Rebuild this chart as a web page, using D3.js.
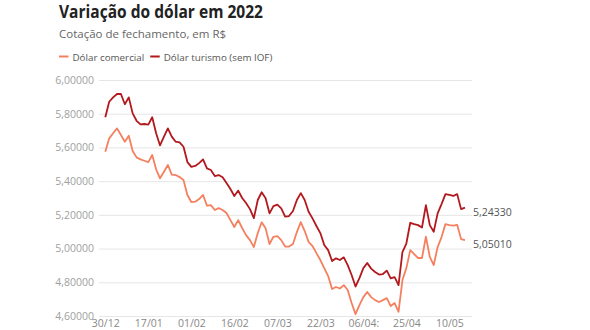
<!DOCTYPE html>
<html>
<head>
<meta charset="utf-8">
<script src="https://cdn.jsdelivr.net/npm/d3@7"></script>
<style>
  html, body { margin: 0; padding: 0; background: #fff; }
  svg { display: block; }
  text { font-family: "Open Sans", "Noto Sans", sans-serif; }
</style>
</head>
<body>
<svg id="chart" width="590" height="330"></svg>
<script>
// ---- data ----
const dates = [
  "30/12",
  "03/01","04/01","05/01","06/01","07/01",
  "10/01","11/01","12/01","13/01","14/01",
  "17/01","18/01","19/01","20/01","21/01",
  "24/01","25/01","26/01","27/01","28/01",
  "31/01","01/02","02/02","03/02","04/02",
  "07/02","08/02","09/02","10/02","11/02",
  "14/02","15/02","16/02","17/02","18/02",
  "21/02","22/02","23/02","24/02","25/02",
  "02/03","03/03","04/03",
  "07/03","08/03","09/03","10/03","11/03",
  "14/03","15/03","16/03","17/03","18/03",
  "21/03","22/03","23/03","24/03","25/03",
  "28/03","29/03","30/03","31/03","01/04",
  "04/04","05/04","06/04","07/04","08/04",
  "11/04","12/04","13/04","14/04",
  "18/04","19/04","20/04","22/04",
  "25/04","26/04","27/04","28/04","29/04",
  "02/05","03/05","04/05","05/05","06/05",
  "09/05","10/05","11/05","12/05","13/05","16/05"
];

const comercial = [
  5.575, 5.654, 5.684, 5.713, 5.674, 5.634, 5.669, 5.579, 5.541, 5.529,
  5.521, 5.513, 5.555, 5.470, 5.417, 5.456, 5.496, 5.439, 5.436, 5.424,
  5.407, 5.318, 5.276, 5.278, 5.294, 5.318, 5.255, 5.258, 5.229, 5.240,
  5.229, 5.211, 5.169, 5.128, 5.169, 5.122, 5.080, 5.050, 5.009, 5.092,
  5.156, 5.120, 5.027, 5.070, 5.074, 5.050, 5.012, 5.012, 5.027, 5.098,
  5.157, 5.104, 5.040, 5.015, 4.973, 4.932, 4.884, 4.837, 4.760, 4.772,
  4.763, 4.783, 4.754, 4.677, 4.611, 4.665, 4.712, 4.742, 4.712, 4.694,
  4.683, 4.694, 4.706, 4.659, 4.677, 4.625, 4.813, 4.884, 4.991, 4.967,
  4.944, 4.944, 5.070, 4.951, 4.902, 5.009, 5.068, 5.145, 5.139, 5.136,
  5.141, 5.056, 5.0501
];

const turismo = [
  5.779, 5.871, 5.897, 5.917, 5.917, 5.856, 5.897, 5.802, 5.758, 5.737,
  5.739, 5.735, 5.779, 5.684, 5.612, 5.664, 5.713, 5.664, 5.634, 5.630,
  5.604, 5.513, 5.485, 5.490, 5.507, 5.529, 5.476, 5.466, 5.430, 5.436,
  5.423, 5.389, 5.353, 5.312, 5.344, 5.300, 5.270, 5.234, 5.181, 5.288,
  5.334, 5.298, 5.209, 5.252, 5.261, 5.239, 5.189, 5.193, 5.223, 5.288,
  5.329, 5.288, 5.218, 5.179, 5.134, 5.092, 5.021, 4.991, 4.926, 4.942,
  4.932, 4.948, 4.902, 4.843, 4.775, 4.825, 4.884, 4.914, 4.881, 4.861,
  4.846, 4.849, 4.869, 4.823, 4.831, 4.783, 4.979, 5.030, 5.153, 5.145,
  5.139, 5.125, 5.258, 5.139, 5.100, 5.209, 5.264, 5.323, 5.318, 5.312,
  5.323, 5.234, 5.2433
];

const yTicks = [4.6, 4.8, 5.0, 5.2, 5.4, 5.6, 5.8, 6.0];
const xTickDates = ["30/12","17/01","01/02","16/02","07/03","22/03","06/04","25/04","10/05"];
const xTickLabels = ["30/12","17/01","01/02","16/02","07/03","22/03","06/04:","25/04","10/05"];
const seriesNames = ["Dólar comercial", "Dólar turismo (sem IOF)"];
const seriesColors = ["#f5805f", "#b3181d"];

// ---- chart ----
const svg = d3.select("#chart");
const locale = d3.formatLocale({decimal: ",", thousands: ".", grouping: [3], currency: ["R$", ""]});
const fmt = locale.format(".5f");

const x = d3.scalePoint().domain(dates).range([105.3, 465]);
const y = d3.scaleLinear().domain([4.6, 6.0]).range([316, 80]);

// title
svg.append("text").attr("x", 59).attr("y", 18)
  .attr("font-size", 17).attr("font-weight", 700).attr("fill", "#222")
  .attr("textLength", 204).attr("lengthAdjust", "spacingAndGlyphs")
  .text("Variação do dólar em 2022");
svg.append("text").attr("x", 59).attr("y", 38)
  .attr("font-size", 11.5).attr("fill", "#666")
  .text("Cotação de fechamento, em R$");

// legend
const leg = svg.append("g");
let lx = 59;
seriesNames.forEach((name, i) => {
  leg.append("line").attr("x1", lx).attr("x2", lx + 9.5).attr("y1", 56.5).attr("y2", 56.5)
    .attr("stroke", seriesColors[i]).attr("stroke-width", 2);
  const t = leg.append("text").attr("x", lx + 13.5).attr("y", 60.5)
    .attr("font-size", 9.8).attr("fill", "#555").text(name);
  lx += 13.5 + t.node().getComputedTextLength() + 6;
});

// y grid + labels
const yAxis = d3.axisLeft(y).tickValues(yTicks).tickSize(-(472 - 99)).tickFormat(fmt).tickPadding(5);
const gy = svg.append("g").attr("transform", "translate(99,0)").call(yAxis);
gy.select(".domain").remove();
gy.selectAll(".tick line").attr("stroke", "#e6e6e6").attr("stroke-width", 1);
gy.selectAll(".tick text").attr("font-size", 10.5).attr("fill", "#a0a0a0")
  .attr("font-family", "'Open Sans', sans-serif");

// x labels
const xAxis = d3.axisBottom(x).tickValues(xTickDates)
  .tickFormat(d => xTickLabels[xTickDates.indexOf(d)]).tickSize(0).tickPadding(0);
const gx = svg.append("g").attr("transform", "translate(0,319.5)").call(xAxis);
gx.select(".domain").remove();
gx.selectAll(".tick text").attr("font-size", 10.5).attr("fill", "#888")
  .attr("font-family", "'Open Sans', sans-serif").attr("dy", "0.71em");

// lines
const line = d3.line().x((d, i) => x(dates[i])).y(d => y(d));
[comercial, turismo].forEach((s, i) => {
  svg.append("path").datum(s).attr("d", line).attr("fill", "none")
    .attr("stroke", seriesColors[i]).attr("stroke-width", 1.8)
    .attr("stroke-linejoin", "round");
});

// end labels
[comercial, turismo].forEach((s, i) => {
  const v = s[s.length - 1];
  svg.append("text").attr("x", 473).attr("y", y(v) + 8)
    .attr("font-size", 10.5).attr("fill", "#555").text(fmt(v));
});
</script>
</body>
</html>
